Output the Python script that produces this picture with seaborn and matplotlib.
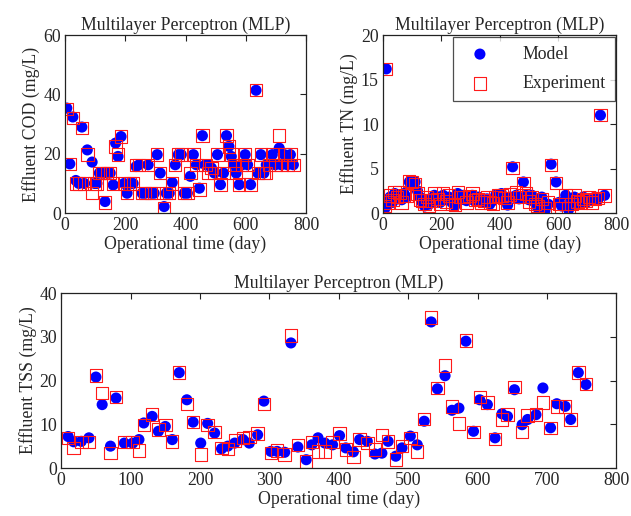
import pandas as pd
import matplotlib
matplotlib.use('Agg')
import matplotlib.pyplot as plt
import seaborn as sns

# COD panel (top left)
cod_day = [6, 16, 26, 36, 46, 56, 64, 74, 90, 98, 106, 114, 124, 133, 140, 150, 160,
           168, 176, 186, 196, 206, 216, 226, 236, 246, 256, 266, 276, 286, 296, 306,
           316, 329, 336, 346, 356, 366, 376, 386, 396, 406, 416, 426, 436, 446, 456,
           466, 476, 486, 496, 506, 516, 526, 536, 544, 552, 560, 568, 578, 588, 598,
           606, 616, 634, 640, 650, 660, 668, 678, 688, 698, 711, 718, 728, 738, 748, 758]
cod_model = [35.4, 16.6, 32.4, 11.0, 10.0, 29.0, 10.0, 21.3, 17.2, 10.0, 10.0, 13.5, 13.5,
             3.9, 13.5, 13.5, 9.5, 23.6, 19.1, 25.8, 10.0, 6.7, 10.0, 10.0, 15.7, 16.3,
             6.7, 6.7, 16.3, 6.7, 6.7, 19.7, 13.5, 2.2, 6.7, 6.7, 10.3, 16.3, 19.7, 19.7,
             6.7, 6.7, 12.4, 19.7, 16.3, 8.4, 26.1, 16.3, 16.3, 15.2, 13.5, 19.7, 9.6,
             13.5, 26.1, 22.5, 19.1, 16.3, 13.5, 9.6, 16.3, 19.7, 16.3, 9.6, 41.4, 13.5,
             19.7, 13.5, 16.3, 16.3, 19.7, 16.3, 21.9, 16.3, 19.7, 16.3, 19.7, 16.3]
cod_exp = [35.0, 16.6, 32.0, 10.0, 10.0, 28.7, 10.0, 19.7, 6.7, 10.0, 10.0, 13.5, 13.5,
           3.6, 13.5, 13.5, 10.0, 22.5, 19.7, 25.8, 10.0, 6.7, 10.0, 10.0, 16.3, 16.3,
           6.7, 6.7, 16.3, 6.7, 6.7, 19.7, 13.5, 1.7, 6.7, 6.7, 10.0, 16.3, 19.7, 19.7,
           6.7, 6.7, 13.5, 19.7, 16.3, 7.9, 26.1, 16.3, 13.5, 15.2, 13.5, 19.7, 9.6,
           13.5, 26.1, 22.5, 19.7, 16.3, 13.5, 9.6, 16.3, 19.7, 16.3, 9.6, 41.4, 13.5,
           19.7, 13.5, 13.5, 16.3, 19.7, 16.3, 26.1, 16.3, 19.7, 16.3, 19.7, 16.3]

# TN panel (top right)
tn_day = [6, 11, 16, 24, 32, 40, 48, 56, 64, 72, 80, 90, 100, 110, 118, 126, 134, 142,
          150, 158, 166, 176, 186, 196, 206, 216, 226, 236, 246, 256, 266, 276, 286,
          296, 306, 316, 326, 336, 346, 356, 366, 376, 386, 396, 406, 416, 427, 436,
          444, 456, 466, 481, 490, 500, 510, 520, 530, 544, 555, 566, 576, 593, 603,
          612, 626, 636, 646, 656, 666, 676, 686, 696, 706, 716, 726, 736, 745, 759]
tn_model = [0.5, 16.2, 1.0, 1.8, 1.2, 2.2, 1.6, 2.0, 1.5, 2.2, 1.8, 3.5, 3.3, 3.5, 2.5,
            1.8, 1.2, 0.8, 1.5, 1.0, 1.6, 2.0, 1.8, 1.2, 2.0, 1.5, 1.8, 1.2, 0.8, 2.2,
            1.5, 2.0, 1.4, 1.6, 2.0, 1.3, 1.8, 1.5, 1.2, 1.6, 1.0, 1.4, 2.0, 1.8, 2.2,
            1.5, 0.9, 1.8, 5.2, 2.0, 1.6, 3.5, 2.0, 1.5, 2.0, 1.2, 0.6, 1.8, 0.3, 1.0,
            5.5, 3.5, 1.2, 0.8, 2.0, 0.4, 1.2, 1.8, 1.5, 1.0, 1.8, 1.2, 1.6, 1.4, 1.8,
            1.5, 11.0, 2.0]
tn_exp = [0.8, 16.2, 1.2, 2.0, 1.5, 2.4, 1.8, 2.3, 1.2, 2.0, 2.0, 3.6, 3.5, 3.3, 2.2,
          1.5, 1.4, 1.0, 1.8, 0.8, 1.4, 2.2, 1.6, 1.0, 2.2, 1.3, 2.0, 1.0, 0.9, 2.4,
          1.8, 1.8, 1.2, 1.9, 2.2, 1.5, 1.6, 1.2, 1.4, 1.8, 1.2, 1.1, 1.8, 2.0, 2.0,
          1.7, 1.2, 2.1, 5.1, 2.3, 1.8, 3.4, 2.2, 1.3, 1.8, 1.0, 0.8, 1.6, 0.5, 1.2,
          5.4, 3.4, 1.0, 0.6, 2.0, 0.5, 1.0, 2.0, 1.3, 1.2, 1.6, 1.4, 1.8, 1.2, 1.6,
          1.7, 11.0, 2.0]

# TSS panel (bottom)
tss_day = [10, 18, 29, 40, 50, 59, 71, 79, 91, 103, 112, 119, 131, 140, 150, 160, 170,
           181, 190, 201, 211, 221, 231, 240, 250, 262, 271, 283, 292, 302, 311, 322,
           331, 341, 353, 361, 370, 380, 391, 401, 410, 421, 430, 441, 452, 462, 471,
           482, 491, 503, 513, 523, 533, 542, 553, 563, 573, 583, 594, 603, 614, 625,
           635, 643, 653, 664, 672, 684, 694, 705, 714, 726, 734, 745, 756]
tss_model = [7.2, 6.0, 6.1, 6.9, 20.8, 14.5, 5.0, 16.0, 5.7, 5.7, 6.5, 10.3, 11.8, 8.4,
             9.5, 6.5, 21.8, 15.6, 10.5, 5.7, 10.2, 8.0, 4.4, 5.0, 5.7, 6.5, 5.7, 7.6,
             15.3, 3.8, 3.8, 3.6, 28.6, 4.8, 1.9, 5.3, 6.9, 5.7, 5.3, 7.4, 4.6, 3.7, 6.5,
             6.1, 3.2, 3.4, 6.1, 2.7, 4.6, 7.3, 5.3, 10.7, 33.4, 18.1, 21.1, 13.2, 13.7,
             29.0, 8.4, 15.6, 14.5, 6.9, 12.4, 11.8, 17.9, 9.9, 11.1, 12.2, 18.3, 9.2,
             14.7, 14.1, 11.1, 21.8, 19.1]
tss_exp = [6.9, 4.6, 6.0, 5.9, 21.2, 17.2, 3.4, 16.3, 5.9, 5.9, 4.0, 9.9, 12.2, 8.8,
           9.9, 6.1, 21.8, 14.7, 10.5, 3.1, 9.9, 8.2, 4.6, 4.4, 6.3, 6.9, 7.1, 7.9, 14.7,
           3.4, 4.0, 3.1, 30.3, 5.3, 1.5, 5.9, 3.8, 3.8, 5.9, 7.9, 4.2, 2.5, 6.5, 5.7,
           4.2, 7.6, 6.1, 1.9, 5.0, 6.9, 3.8, 11.2, 34.4, 18.3, 23.4, 14.1, 10.2, 29.2,
           8.2, 16.3, 15.0, 6.6, 11.1, 12.2, 18.5, 8.2, 12.0, 12.2, 15.0, 9.2, 14.1,
           14.1, 11.1, 21.8, 19.2]

sns.set_style("white")
plt.rcParams['font.family'] = ['Liberation Serif', 'DejaVu Serif']
plt.rcParams['axes.edgecolor'] = '#222222'
plt.rcParams['axes.linewidth'] = 0.9

fig = plt.figure(figsize=(6.31, 5.16), dpi=100)
ax_cod = fig.add_axes([0.103, 0.587, 0.382, 0.345])
ax_tn = fig.add_axes([0.607, 0.587, 0.370, 0.345])
ax_tss = fig.add_axes([0.097, 0.093, 0.880, 0.339])

title = 'Multilayer Perceptron (MLP)'
fs = 12.8


def draw(ax, day, model, exp, ylabel, ylim, yticks, xticks):
    df = pd.DataFrame({'day': day, 'model': model, 'exp': exp})
    sns.scatterplot(data=df, x='day', y='model', ax=ax, marker='o', s=64,
                    color='#0000ff', edgecolor='none', label='Model', legend=False)
    sns.scatterplot(data=df, x='day', y='exp', ax=ax, marker='s', s=80,
                    facecolor='none', edgecolor='#ff1a1a', linewidth=0.8,
                    label='Experiment', legend=False)
    ax.set_xlim(0, 800)
    ax.set_ylim(*ylim)
    ax.set_xticks(xticks)
    ax.set_yticks(yticks)
    ax.tick_params(direction='in', top=True, right=True, length=4,
                   labelsize=fs, pad=3, color='#222222')
    ax.set_xlabel('Operational time (day)', fontsize=fs, labelpad=1)
    ax.set_ylabel(ylabel, fontsize=fs, labelpad=2)
    ax.set_title(title, fontsize=fs, pad=4)


draw(ax_cod, cod_day, cod_model, cod_exp, 'Effluent COD (mg/L)', (0, 60),
     [0, 20, 40, 60], [0, 200, 400, 600, 800])
draw(ax_tn, tn_day, tn_model, tn_exp, 'Effluent TN (mg/L)', (0, 20),
     [0, 5, 10, 15, 20], [0, 200, 400, 600, 800])
draw(ax_tss, tss_day, tss_model, tss_exp, 'Effluent TSS (mg/L)', (0, 40),
     [0, 10, 20, 30, 40], [0, 100, 200, 300, 400, 500, 600, 700, 800])

leg = ax_tn.legend(loc='upper right', fontsize=fs, frameon=True, fancybox=False,
                   edgecolor='#222222', borderpad=0.5, labelspacing=0.7,
                   handletextpad=1.4, borderaxespad=0.1)
leg.get_frame().set_linewidth(0.9)

plt.savefig('out.png', dpi=100)
